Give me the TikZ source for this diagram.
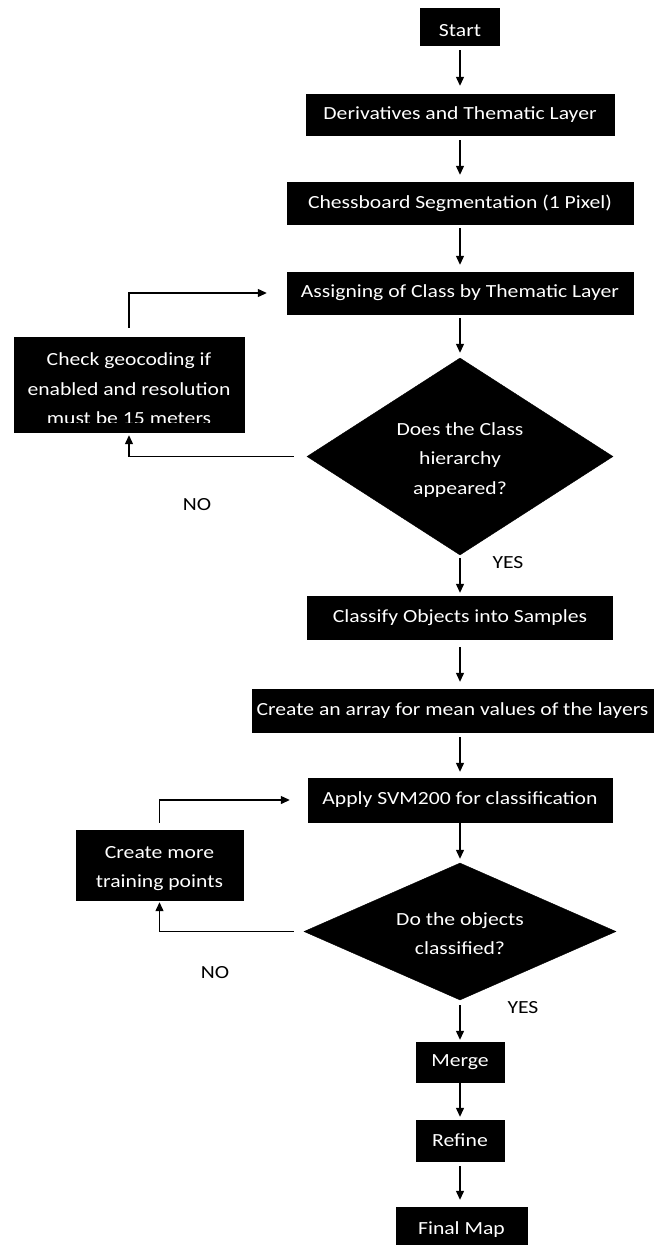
\documentclass[tikz,border=0pt]{standalone}
\usepackage{fontspec}
\setmainfont[FakeStretch=1.17]{Carlito}
\usetikzlibrary{shapes.geometric,arrows.meta}
\begin{document}
\begin{tikzpicture}[x=1pt,y=-1pt,
  txtfont/.style={font=\fontsize{18.5}{29.5}\selectfont},
  box/.style={rectangle, fill=black, draw=black, text=white, inner sep=0pt, align=center, txtfont},
  txt/.style={text=white, inner sep=0pt, align=center, txtfont},
  dia/.style={diamond, fill=black, draw=black, inner sep=0pt},
  arr/.style={line width=1.2pt, -{Triangle[length=9pt,width=8pt]}},
  lbl/.style={text=black, inner sep=0pt, txtfont}]
\useasboundingbox (0,0) rectangle (657,1245);
\fill[white] (0,0) rectangle (657,1245);
% main column
\node[box, minimum width=79pt,  minimum height=37pt] (start)  at (460,26.5) {\raisebox{-4.5pt}[\height][\depth]{Start}};
\node[box, minimum width=308pt, minimum height=41pt] (deriv)  at (460,114.5) {Derivatives and Thematic Layer};
\node[box, minimum width=346pt, minimum height=42pt] (chess)  at (460,203) {Chessboard Segmentation (1 Pixel)};
\node[box, minimum width=346pt, minimum height=42pt] (assign) at (460,293) {Assigning of Class by Thematic Layer};
\node[dia, minimum width=306pt, minimum height=197pt, aspect=1.55] (d1) at (460,456.5) {};
\node[txt] (d1txt) at (460,460) {Does the Class\\hierarchy\\appeared?};
\node[box, minimum width=305pt, minimum height=43pt] (classify) at (460,617.5) {Classify Objects into Samples};
\node[box, minimum width=401pt, minimum height=43pt] (array) at (452.5,710.5) {Create an array for mean values of the layers};
\node[box, minimum width=304pt, minimum height=44pt] (apply) at (460,800) {Apply SVM200 for classification};
\node[dia, minimum width=312pt, minimum height=137pt, aspect=2.28] (d2) at (460,931.5) {};
\node[txt] (d2txt) at (460,933.5) {Do the objects\\classified?};
\node[box, minimum width=88pt,  minimum height=40pt] (merge)  at (460,1062) {Merge};
\node[box, minimum width=88pt,  minimum height=41pt] (refine) at (460,1140.5) {Refine};
\node[box, minimum width=131pt, minimum height=38pt] (final)  at (461.5,1226) {\raisebox{-4pt}[\height][\depth]{Final Map}};
% side boxes
\node[box, minimum width=230pt, minimum height=95pt] (check) at (129,384.5) {};
\begin{scope}
  \clip (14,337) rectangle (244,422);
  \node[txt] (checktxt) at (129,389) {Check geocoding if\\enabled and resolution\\must be 15 meters};
\end{scope}
\node[box, minimum width=167pt, minimum height=70pt] (more) at (159.5,865) {};
\node[txt] (moretxt) at (159.5,868.5) {Create more\\training points};
% main arrows
\draw[arr, shorten <=5pt, shorten >=8pt] (start.south) -- (deriv.north);
\draw[arr, shorten <=5pt, shorten >=7pt] (deriv.south) -- (chess.north);
\draw[arr, shorten <=4pt, shorten >=7pt] (chess.south) -- (assign.north);
\draw[arr, shorten <=4pt, shorten >=5pt] (assign.south) -- (d1.north);
\draw[arr, shorten <=3pt, shorten >=3pt] (d1.south) -- (classify.north);
\draw[arr, shorten <=8pt, shorten >=7pt] (classify.south) -- (classify.south |- array.north);
\draw[arr, shorten <=5pt, shorten >=6pt] (array.south -| apply.north) -- (apply.north);
\draw[arr, shorten <=1pt, shorten >=4pt] (apply.south) -- (d2.north);
\draw[arr, shorten <=5pt, shorten >=2pt] (d2.south) -- (merge.north);
\draw[arr, shorten <=1pt, shorten >=3pt] (merge.south) -- (refine.north);
\draw[arr, shorten <=5pt, shorten >=7pt] (refine.south) -- (refine.south |- final.north);
% loops
\draw[arr, shorten <=13pt, shorten >=3pt] (d1.west) -| (check.south);
\draw[arr, shorten <=9pt, shorten >=20pt] (check.north) |- (assign.west);
\draw[arr, shorten <=10pt, shorten >=2pt] (d2.west) -| (more.south);
\draw[arr, shorten <=7pt, shorten >=18pt] (more.north) |- (apply.west);
% labels
\node[lbl] (no1)  at (197,505) {NO};
\node[lbl] (yes1) at (508,563) {YES};
\node[lbl] (no2)  at (215,973) {NO};
\node[lbl] (yes2) at (523,1008) {YES};
\end{tikzpicture}
\end{document}
